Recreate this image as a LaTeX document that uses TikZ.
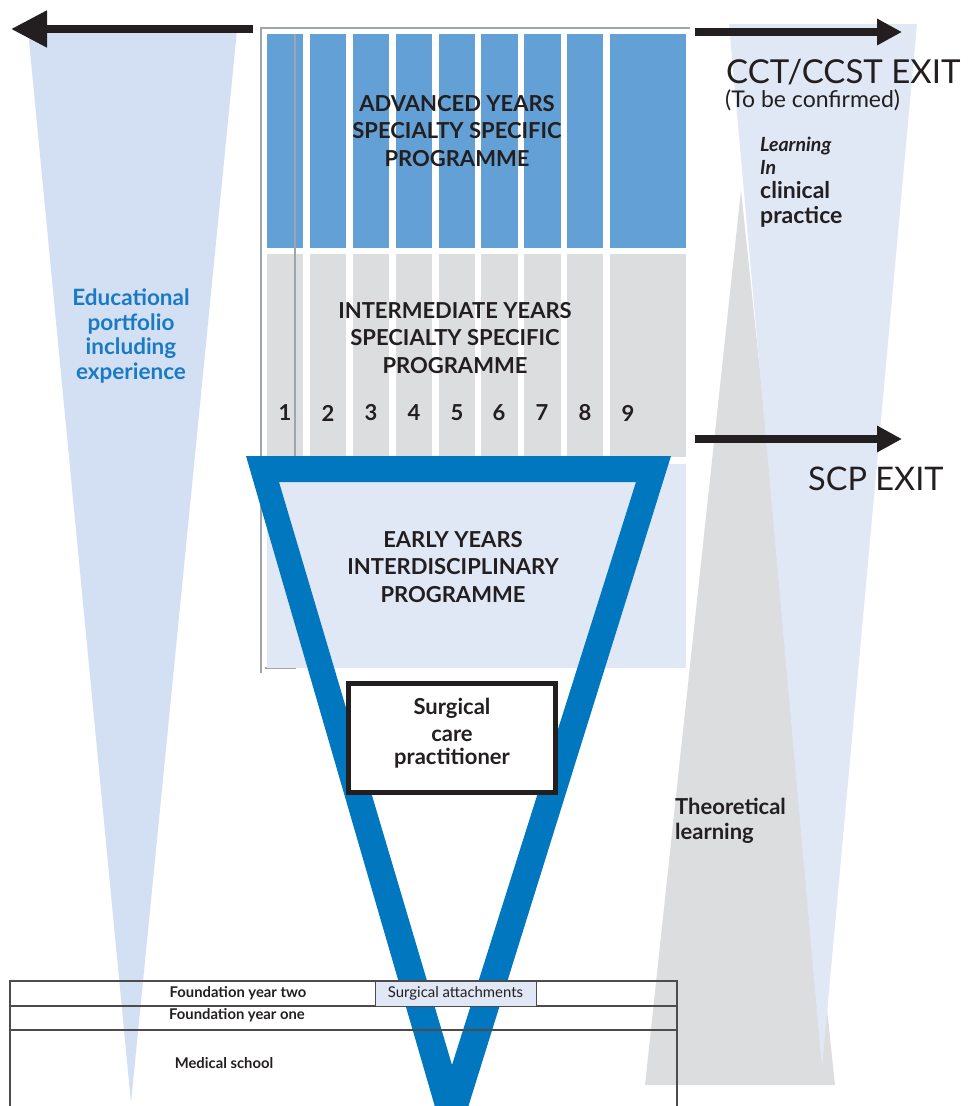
\documentclass[tikz,border=0pt]{standalone}
\usepackage{fontspec}
\setmainfont{Lato}
\usetikzlibrary{arrows.meta}

\definecolor{advblue}{RGB}{99,160,214}
\definecolor{midgray}{RGB}{220,221,223}
\definecolor{earlyblue}{RGB}{224,232,245}
\definecolor{portblue}{RGB}{211,224,243}
\definecolor{vblue}{RGB}{0,119,191}
\definecolor{textblue}{RGB}{26,123,196}
\definecolor{framegray}{RGB}{160,165,172}
\definecolor{textdark}{RGB}{35,31,32}

\begin{document}
\begin{tikzpicture}[x=1pt,y=-1pt]

\def\advtop{34}
\def\advbot{248}
\def\midtop{254}
\def\midbot{457}
\def\numrow{413}
\def\arrowlw{8pt}

\tikzset{head/.style = {align=center, text=textdark, inner sep=0pt, font=\fontsize{22}{27.5}\selectfont\bfseries}}
\tikzset{num/.style = {text=textdark, inner sep=0pt, font=\fontsize{22}{22}\selectfont\bfseries}}
\tikzset{side/.style = {align=left, anchor=base west, text=textdark, inner sep=0pt}}
\tikzset{frame/.style = {draw=framegray, line width=1.4pt}}
\tikzset{tabline/.style = {draw=black!70, line width=1.2pt}}
\tikzset{tabtext/.style = {text=textdark, inner sep=0pt, font=\fontsize{14.8}{15}\selectfont\bfseries}}
\tikzset{exit/.style = {draw=textdark, line width=\arrowlw}}

\useasboundingbox (0,0) rectangle (968,1106);

\fill[portblue] (28,30) -- (237,30) -- (131,1103) -- cycle;
\fill[midgray] (741,190) -- (835,1085) -- (645,1085) -- cycle;
\fill[earlyblue] (729,24) -- (917,24) -- (822,1068) -- cycle;

\draw[frame] (690,28) -- (261,28) -- (261,673);

\foreach \l/\r/\n in {267/303/1,310/346/2,353/389/3,396/432/4,439/475/5,481/518/6,524/561/7,567/603/8,610/686/9} {
  \fill[advblue] (\l,\advtop) rectangle (\r,\advbot);
  \fill[midgray] (\l,\midtop) rectangle (\r,\midbot);
  \node[num] (n\n) at (\l+18,\numrow) {\n};
}
\draw[frame] (295,\advtop) -- (295,668) -- (265,668);

\fill[earlyblue] (267,464) rectangle (686,668);

\fill[vblue, even odd rule] (246,456) -- (671,456) -- (451,1162) -- cycle
  (279,482) -- (636,482) -- (452,1065) -- cycle;

\node[draw=textdark, line width=5pt, fill=white, minimum width=207pt, minimum height=109pt, inner sep=0pt] (scp) at (452,738) {};
\node[head, font=\fontsize{22}{25}\selectfont\bfseries] (scptext) at (452,733) {Surgical\\[2pt]care\\[-2pt]practitioner};

\node[head] (adv) at (457,131) {ADVANCED YEARS\\SPECIALTY SPECIFIC\\PROGRAMME};
\node[head] (mid) at (455,338) {INTERMEDIATE YEARS\\SPECIALTY SPECIFIC\\PROGRAMME};
\node[head] (early) at (453,567) {EARLY YEARS\\INTERDISCIPLINARY\\PROGRAMME};

\node[head, text=textblue, font=\fontsize{22.5}{24.7}\selectfont\bfseries] (port) at (131,336) {Educational\\portfolio\\including\\experience};

\draw[tabline] (10,1106) -- (10,981) -- (677,981) -- (677,1106);
\draw[tabline] (10,1006) -- (677,1006);
\draw[tabline] (10,1030) -- (677,1030);
\node[draw=black!70, line width=1pt, fill=earlyblue, minimum width=161pt, minimum height=25pt, inner sep=0pt] (attach) at (455.5,993.5) {};
\node[tabtext, font=\fontsize{14.9}{15}\selectfont] (attachtext) at (attach) {Surgical attachments};
\node[tabtext] (fy2) at (238,993) {Foundation year two};
\node[tabtext] (fy1) at (237,1015) {Foundation year one};
\node[tabtext] (med) at (224,1063) {Medical school};

\coordinate (la0) at (253,29);
\coordinate (la1) at (11,29);
\coordinate (ra0) at (695,32);
\coordinate (ra1) at (902,32);
\coordinate (sa0) at (695,439);
\coordinate (sa1) at (902,439);
\draw[exit, -{Triangle[length=36pt,width=35pt]}] (la0) -- (la1);
\draw[exit, -{Triangle[length=25pt,width=25pt]}] (ra0) -- (ra1);
\draw[exit, -{Triangle[length=25pt,width=25pt]}] (sa0) -- (sa1);

\node[side, font=\fontsize{33}{33}\selectfont] (cct) at (726,83) {CCT/CCST EXIT};
\node[side, font=\fontsize{23}{23}\selectfont] (conf) at (725,107) {(To be confirmed)};
\node[side, font=\fontsize{32.5}{33}\selectfont] (scpexit) at (808,490) {SCP EXIT};
\node[side, font=\fontsize{19.5}{23}\selectfont\bfseries\itshape] (learn) at (760,174) {Learning\\In};
\node[side, font=\fontsize{23}{24.5}\selectfont\bfseries] (clin) at (760,223) {clinical\\practice};
\node[side, font=\fontsize{22}{24.5}\selectfont\bfseries] (theory) at (675,839) {Theoretical\\learning};

\end{tikzpicture}
\end{document}
